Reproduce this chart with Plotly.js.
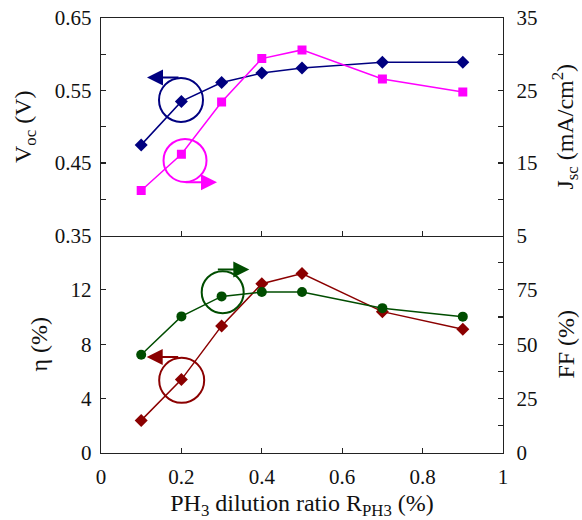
<!DOCTYPE html>
<html>
<head>
<meta charset="utf-8">
<script src="https://cdn.plot.ly/plotly-3.0.1.min.js"></script>
<style>html,body{margin:0;padding:0;background:#fff;}#chart{width:582px;height:520px;}</style>
</head>
<body>
<div id="chart"></div>
<script>
// Data
const ratio = [0.1, 0.2, 0.3, 0.4, 0.5, 0.7, 0.9];
const voc = [0.475, 0.535, 0.561, 0.574, 0.581, 0.589, 0.589];
const jsc = [11.2, 16.2, 23.4, 29.4, 30.6, 26.6, 24.8];
const eta = [2.4, 5.4, 9.35, 12.45, 13.2, 10.4, 9.1];
const ff = [45.2, 62.8, 72.0, 74.0, 74.0, 66.6, 62.7];

const cBlue = '#000080', cPink = '#ff00ff', cRed = '#8b0000', cGreen = '#004d00';
const fontFam = 'Liberation Serif';

const traces = [
  {x: ratio, y: voc, xaxis: 'x2', yaxis: 'y', mode: 'lines+markers',
   line: {color: cBlue, width: 1.5}, marker: {symbol: 'diamond', size: 10, color: cBlue}},
  {x: ratio, y: jsc, xaxis: 'x2', yaxis: 'y2', mode: 'lines+markers',
   line: {color: cPink, width: 1.5}, marker: {symbol: 'square', size: 9, color: cPink}},
  {x: ratio, y: eta, xaxis: 'x', yaxis: 'y3', mode: 'lines+markers',
   line: {color: cRed, width: 1.5}, marker: {symbol: 'diamond', size: 10, color: cRed}},
  {x: ratio, y: ff, xaxis: 'x', yaxis: 'y4', mode: 'lines+markers',
   line: {color: cGreen, width: 1.5}, marker: {symbol: 'circle', size: 10, color: cGreen}}
];

const tf = {family: fontFam, size: 21, color: '#111'};
const ttf = {family: fontFam, size: 24, color: '#111'};
const axCommon = {showline: true, linecolor: '#222', linewidth: 1.3, ticks: 'inside', ticklen: 5,
  tickcolor: '#222', tickwidth: 1.2, showgrid: false, zeroline: false, tickfont: tf};
const minorStyle = {ticks: 'inside', ticklen: 5, tickcolor: '#222', tickwidth: 1.2};

function circle(xref, yref, xa, ya, r, color) {
  return {type: 'circle', xref: xref, yref: yref, xsizemode: 'pixel', ysizemode: 'pixel',
    xanchor: xa, yanchor: ya, x0: -r, x1: r, y0: -r, y1: r, line: {color: color, width: 2}};
}
function arrow(xref, yref, x, y, ax, color) {
  return {xref: xref, yref: yref, x: x, y: y, ax: ax, ay: 0, text: '', showarrow: true,
    arrowhead: 2, arrowsize: 1.6, arrowwidth: 2, arrowcolor: color, standoff: 0, startstandoff: 0};
}

const layout = {
  width: 582, height: 520,
  margin: {l: 101, r: 79, t: 18, b: 67},
  paper_bgcolor: '#fff', plot_bgcolor: '#fff',
  showlegend: false,
  font: {family: fontFam, color: '#111', size: 21},
  xaxis: Object.assign({}, axCommon, {domain: [0, 1], anchor: 'y3', range: [0, 1], dtick: 0.2, tick0: 0,
    ticklabelstandoff: 4,
    title: {text: 'PH<sub>3</sub> dilution ratio R<sub>PH3</sub> (%)', font: ttf, standoff: 13}}),
  xaxis2: Object.assign({}, axCommon, {domain: [0, 1], anchor: 'y', range: [0, 1], dtick: 0.2, tick0: 0,
    matches: 'x', showticklabels: false, mirror: true}),
  yaxis: Object.assign({}, axCommon, {domain: [0.5, 1], anchor: 'x2', range: [0.35, 0.65],
    tick0: 0.35, dtick: 0.1, tickformat: '.2f', ticklabelstandoff: 4,
    minor: Object.assign({dtick: 0.05, tick0: 0.35}, minorStyle),
    title: {text: 'V<sub>oc</sub> (V)', font: ttf, standoff: 16}}),
  yaxis2: Object.assign({}, axCommon, {overlaying: 'y', side: 'right', anchor: 'x2', range: [5, 35],
    tick0: 5, dtick: 10, ticklabelstandoff: 8,
    minor: Object.assign({dtick: 5, tick0: 5}, minorStyle),
    title: {text: 'J<sub>sc</sub> (mA/cm<sup>2</sup>)', font: ttf, standoff: 20}}),
  yaxis3: Object.assign({}, axCommon, {domain: [0, 0.5], anchor: 'x', range: [0, 16],
    tickvals: [0, 4, 8, 12], ticklabelstandoff: 4,
    title: {text: 'η (%)', font: ttf, standoff: 16}}),
  yaxis4: Object.assign({}, axCommon, {overlaying: 'y3', side: 'right', anchor: 'x', range: [0, 100],
    tickvals: [0, 25, 50, 75], ticklabelstandoff: 8,
    minor: Object.assign({tickvals: [12.5, 37.5, 62.5, 87.5]}, minorStyle),
    title: {text: 'FF (%)', font: ttf, standoff: 20}}),
  shapes: [
    circle('x2', 'y', 0.199, 0.537, 22, cBlue),
    circle('x2', 'y2', 0.209, 15.35, 21.5, cPink),
    circle('x', 'y4', 0.3027, 73.95, 21, cGreen),
    circle('x', 'y3', 0.2007, 5.35, 22.5, cRed)
  ],
  annotations: [
    arrow('x2', 'y', 0.1144, 0.568, 33, cBlue),
    arrow('x2', 'y2', 0.2886, 12.35, -33, cPink),
    arrow('x', 'y4', 0.369, 84.4, -33, cGreen),
    arrow('x', 'y3', 0.1137, 7.06, 33, cRed)
  ]
};

Plotly.newPlot('chart', traces, layout, {displayModeBar: false, staticPlot: true});
</script>
</body>
</html>
